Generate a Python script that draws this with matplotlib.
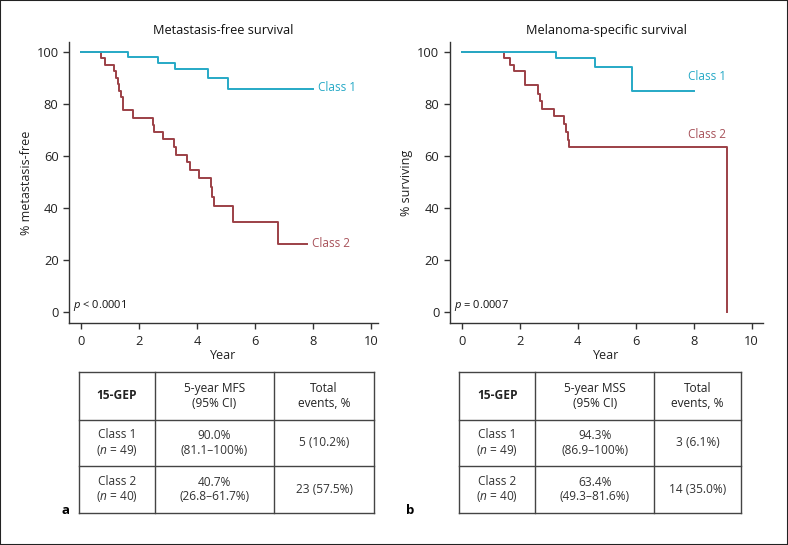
import matplotlib
matplotlib.use("Agg")
import matplotlib.pyplot as plt
from matplotlib.patches import Rectangle

plt.rcParams['font.family'] = ['Open Sans', 'DejaVu Sans']
plt.rcParams['mathtext.fontset'] = 'custom'
plt.rcParams['mathtext.it'] = 'Open Sans:italic'
plt.rcParams['mathtext.rm'] = 'Open Sans'

# ---------------- data ----------------
mfs_c1_t = [0, 1.63, 2.66, 3.23, 4.38, 5.07, 8.01]
mfs_c1_s = [100, 97.9, 95.6, 93.3, 89.9, 85.9, 85.9]

mfs_c2_t = [0, 0.70, 0.84, 1.15, 1.21, 1.27, 1.31, 1.38, 1.46, 1.80, 2.48, 2.52,
            2.84, 3.21, 3.27, 3.66, 3.75, 4.08, 4.47, 4.53, 4.58, 5.25, 6.78, 7.78]
mfs_c2_s = [100, 97.5, 95.0, 92.5, 90.0, 87.5, 85.0, 82.5, 77.5, 74.6, 72.0, 69.2,
            66.4, 63.3, 60.5, 57.7, 54.7, 51.7, 48.0, 44.3, 40.6, 34.7, 26.0, 26.0]

mss_c1_t = [0, 3.24, 4.60, 5.86, 8.02]
mss_c1_s = [100, 97.6, 94.3, 85.0, 85.0]

mss_c2_t = [0, 1.47, 1.67, 1.80, 2.17, 2.64, 2.70, 2.77, 3.18, 3.53, 3.60, 3.66, 3.70, 9.14]
mss_c2_s = [100, 97.5, 95.0, 92.5, 87.2, 83.8, 81.0, 78.1, 75.2, 72.2, 69.2, 66.2, 63.4, 0]

x_ticks = [0, 2, 4, 6, 8, 10]
y_ticks = [0, 20, 40, 60, 80, 100]

titles = ["Metastasis-free survival", "Melanoma-specific survival"]
ylabels = ["% metastasis-free", "% surviving"]
p_texts = [r"$\it{p}$ < 0.0001", r"$\it{p}$ = 0.0007"]
series_labels = ["Class 1", "Class 2"]

table_header_a = ["15-GEP", "5-year MFS\n(95% CI)", "Total\nevents, %"]
table_rows_a = [["Class 1\n($\\it{n}$ = 49)", "90.0%\n(81.1–100%)", "5 (10.2%)"],
                ["Class 2\n($\\it{n}$ = 40)", "40.7%\n(26.8–61.7%)", "23 (57.5%)"]]
table_header_b = ["15-GEP", "5-year MSS\n(95% CI)", "Total\nevents, %"]
table_rows_b = [["Class 1\n($\\it{n}$ = 49)", "94.3%\n(86.9–100%)", "3 (6.1%)"],
                ["Class 2\n($\\it{n}$ = 40)", "63.4%\n(49.3–81.6%)", "14 (35.0%)"]]

C1 = "#26a9c6"
C2 = "#9c4046"
C2_TXT = "#a8525a"
AXC = "#333333"

W, H = 788, 545
fig = plt.figure(figsize=(W / 100, H / 100), dpi=100)
fig.patch.set_facecolor("white")


def px_axes(x0, y0, x1, y1):
    return fig.add_axes([x0 / W, 1 - y1 / H, (x1 - x0) / W, (y1 - y0) / H])


def km_panel(ax, c1t, c1s, c2t, c2s, title, ylabel, ptxt, xlim, lab1, lab2, ha):
    ax.step(c1t, c1s, where="post", color=C1, lw=1.4, zorder=3)
    ax.step(c2t, c2s, where="post", color=C2, lw=1.4, zorder=2)
    ax.set_xlim(*xlim)
    ax.set_ylim(-4.2, 103.8)
    ax.set_xticks(x_ticks)
    ax.set_yticks(y_ticks)
    for s in ["top", "right"]:
        ax.spines[s].set_visible(False)
    for s in ["left", "bottom"]:
        ax.spines[s].set_color(AXC)
        ax.spines[s].set_linewidth(1.0)
    ax.tick_params(colors=AXC, labelcolor="#222222", labelsize=9.3, length=4, width=1.0)
    ax.tick_params(axis="x", pad=4.5)
    ax.set_title(title, fontsize=9.2, pad=6, color="#111111")
    ax.set_ylabel(ylabel, fontsize=9, color="#222222")
    ax.yaxis.set_label_coords(-0.117, 0.5)
    ax.set_xlabel("Year", fontsize=9, color="#222222", labelpad=1)
    ax.text(-0.26, 2.5, ptxt, fontsize=8, color="#111111", ha="left", va="center")
    ax.text(lab1[0], lab1[1], series_labels[0], color=C1, fontsize=8.5, ha=ha, va="center")
    ax.text(lab2[0], lab2[1], series_labels[1], color=C2_TXT, fontsize=8.5, ha=ha, va="center")


axA = px_axes(69, 42, 378, 323)
km_panel(axA, mfs_c1_t, mfs_c1_s, mfs_c2_t, mfs_c2_s, titles[0], ylabels[0], p_texts[0],
         (-0.41, 10.24), (8.17, 86.2), (7.97, 26.2), "left")

axB = px_axes(449.7, 42, 763, 323)
km_panel(axB, mss_c1_t, mss_c1_s, mss_c2_t, mss_c2_s, titles[1], ylabels[1], p_texts[1],
         (-0.414, 10.39), (8.45, 90.4), (8.45, 68.3), "center")


def draw_table(x0, x1, colx, header, rows):
    y0, y1 = 371.7, 513.3
    rowy = [371.7, 420.0, 465.7, 513.3]
    tax = px_axes(x0, y0, x1, y1)
    tax.set_xlim(x0, x1)
    tax.set_ylim(y1, y0)
    tax.axis("off")
    xs = [x0] + colx + [x1]
    for yy in rowy:
        tax.plot([x0, x1], [yy, yy], color="#444444", lw=1.0, clip_on=False)
    for xx in xs:
        tax.plot([xx, xx], [y0, y1], color="#444444", lw=1.0, clip_on=False)
    cx = [(xs[i] + xs[i + 1]) / 2 for i in range(3)]
    for i, h in enumerate(header):
        tax.text(cx[i], (rowy[0] + rowy[1]) / 2, h, ha="center", va="center",
                 fontsize=8.6, fontweight="bold" if i == 0 else "normal",
                 color="#222222", linespacing=1.15)
    for r, row in enumerate(rows):
        for i, v in enumerate(row):
            tax.text(cx[i], (rowy[r + 1] + rowy[r + 2]) / 2, v, ha="center", va="center",
                     fontsize=8.6, color="#333333", linespacing=1.15)


draw_table(79, 374, [154.7, 274], table_header_a, table_rows_a)
draw_table(459.3, 741, [535.3, 654.3], table_header_b, table_rows_b)

fig.text(66 / W, 1 - 511 / H, "a", fontsize=9.5, fontweight="bold", ha="center", va="center")
fig.text(410 / W, 1 - 511 / H, "b", fontsize=9.5, fontweight="bold", ha="center", va="center")

fig.add_artist(Rectangle((0, 0), 1, 1, transform=fig.transFigure, fill=False,
                         edgecolor="#222222", lw=1.5))

fig.savefig("out.png", dpi=100)
